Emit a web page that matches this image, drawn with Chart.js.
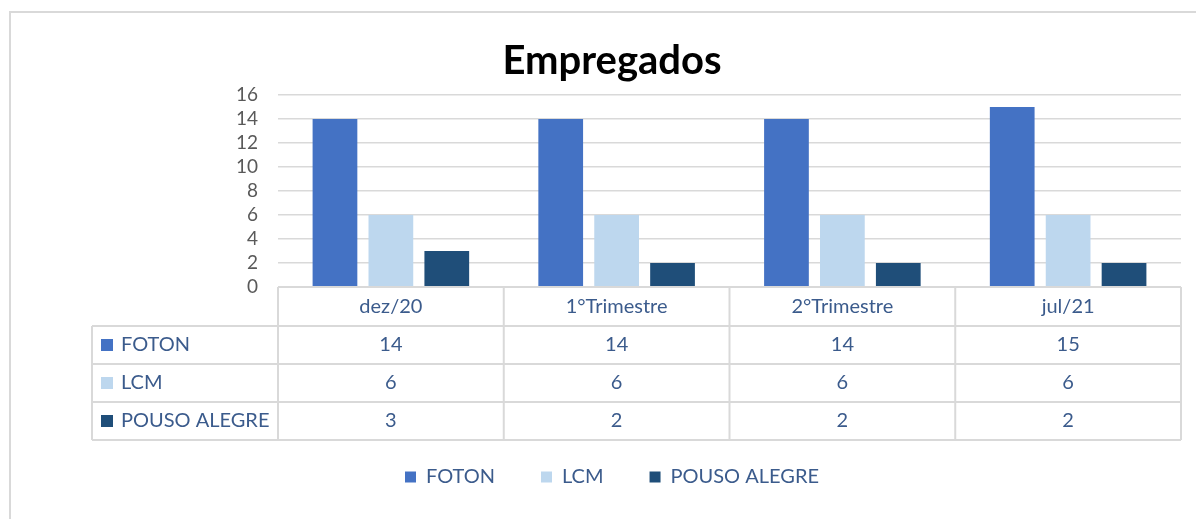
<!DOCTYPE html>
<html>
<head>
<meta charset="utf-8">
<script src="https://cdn.jsdelivr.net/npm/chart.js@4"></script>
<style>
  html, body { margin: 0; padding: 0; background: #fff; }
</style>
</head>
<body>
<canvas id="chart" width="1196" height="519"></canvas>
<script>
// Chart data
const categories = ['dez/20', '1°Trimestre', '2°Trimestre', 'jul/21'];
const seriesNames = ['FOTON', 'LCM', 'POUSO ALEGRE'];
const foton = [14, 14, 14, 15];
const lcm = [6, 6, 6, 6];
const pousoAlegre = [3, 2, 2, 2];
const yMin = 0;
const yMax = 16;
const yStep = 2;

const seriesValues = [foton, lcm, pousoAlegre];
const seriesColors = ['#4472C4', '#BDD7EE', '#1F4E79'];
const textBlue = '#3B5B8C';
const lineGray = '#D9D9D9';
const fontFamily = 'Lato, "Open Sans", sans-serif';

// Frame around the whole chart (Excel chart border)
const framePlugin = {
    id: 'frame',
    beforeDraw(chart) {
        const ctx = chart.ctx;
        ctx.save();
        ctx.strokeStyle = lineGray;
        ctx.lineWidth = 2;
        ctx.strokeRect(10, 12, 1200, 530);
        ctx.restore();
    }
};

// Data table drawn under the plot, aligned to the category scale
const dataTablePlugin = {
    id: 'dataTable',
    afterDraw(chart) {
        const ctx = chart.ctx;
        const area = chart.chartArea;
        const xScale = chart.scales.x;
        const n = categories.length;
        const colW = area.width / n;
        const top = area.bottom;
        const headerH = 39;
        const rowH = 38;
        const labelLeft = 92;
        const bottom = top + headerH + rowH * seriesNames.length;

        ctx.save();
        ctx.strokeStyle = lineGray;
        ctx.lineWidth = 2;
        ctx.beginPath();
        // top of header row
        ctx.moveTo(area.left, top);
        ctx.lineTo(area.right, top);
        // horizontal row lines
        for (let r = 0; r <= seriesNames.length; r++) {
            const y = top + headerH + r * rowH;
            ctx.moveTo(labelLeft, y);
            ctx.lineTo(area.right, y);
        }
        // vertical column lines
        for (let i = 0; i <= n; i++) {
            const x = area.left + i * colW;
            ctx.moveTo(x, top);
            ctx.lineTo(x, bottom);
        }
        ctx.moveTo(labelLeft, top + headerH);
        ctx.lineTo(labelLeft, bottom);
        ctx.stroke();

        ctx.font = '20px ' + fontFamily;
        ctx.fillStyle = textBlue;
        ctx.textBaseline = 'middle';
        ctx.textAlign = 'center';
        // header labels
        categories.forEach((cat, i) => {
            ctx.fillText(cat, xScale.getPixelForValue(i), top + headerH / 2);
        });
        // rows
        seriesNames.forEach((name, r) => {
            const cy = top + headerH + r * rowH + rowH / 2;
            ctx.fillStyle = seriesColors[r];
            ctx.fillRect(labelLeft + 9, cy - 6, 12, 12);
            ctx.fillStyle = textBlue;
            ctx.textAlign = 'left';
            ctx.fillText(name, labelLeft + 29, cy);
            ctx.textAlign = 'center';
            seriesValues[r].forEach((v, i) => {
                ctx.fillText(String(v), xScale.getPixelForValue(i), cy);
            });
        });
        ctx.restore();
    }
};

const ctx = document.getElementById('chart').getContext('2d');
const chart = new Chart(ctx, {
    type: 'bar',
    data: {
        labels: categories,
        datasets: seriesNames.map((name, i) => ({
            label: name,
            data: seriesValues[i],
            backgroundColor: seriesColors[i],
            borderWidth: 0,
            categoryPercentage: 0.743,
            barPercentage: 0.8
        }))
    },
    options: {
        responsive: false,
        animation: false,
        layout: {
            padding: { left: 43, right: 15, top: 0, bottom: 22 }
        },
        scales: {
            x: {
                ticks: { display: false },
                grid: { display: false },
                border: { display: false },
                afterFit: s => { s.height = 134; }
            },
            y: {
                min: yMin,
                max: yMax,
                ticks: {
                    stepSize: yStep,
                    autoSkip: false,
                    padding: 20,
                    color: '#595959',
                    font: { family: fontFamily, size: 19, lineHeight: 1 }
                },
                grid: { color: lineGray, lineWidth: 1.5, drawTicks: false },
                border: { display: false },
                afterFit: s => { s.width = 235; }
            }
        },
        plugins: {
            title: {
                display: true,
                text: 'Empregados',
                color: '#000000',
                font: { family: fontFamily, size: 40, weight: 'bold' },
                padding: { top: 37, bottom: 10 }
            },
            legend: {
                position: 'bottom',
                labels: {
                    boxWidth: 11,
                    boxHeight: 11,
                    padding: 46,
                    color: textBlue,
                    font: { family: fontFamily, size: 20 }
                }
            },
            tooltip: { enabled: false }
        }
    },
    plugins: [framePlugin, dataTablePlugin]
});
</script>
</body>
</html>
